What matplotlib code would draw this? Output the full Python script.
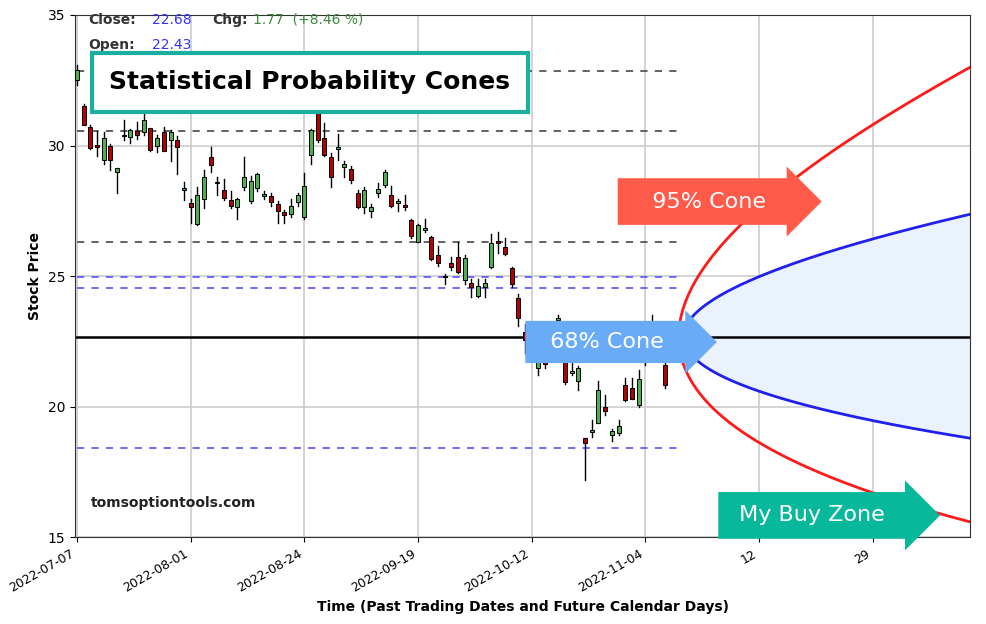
import matplotlib
matplotlib.use("Agg")
import matplotlib.pyplot as plt
from matplotlib.patches import Rectangle
import numpy as np

# daily candles: open, high, low, close (index = trading day)
opens = [32.5, 31.5, 30.72, 29.98, 29.45, 29.97, 28.98, 30.35, 30.34, 30.55, 30.53, 30.66, 30.0, 30.5, 30.2,
         30.2, 28.3, 27.8, 26.99, 27.96, 29.55, 28.55, 28.3, 27.92, 27.66, 28.42, 27.86, 28.36, 28.08, 28.05,
         27.78, 27.46, 27.37, 27.82, 27.28, 29.64, 31.23, 30.27, 29.58, 29.88, 29.19, 29.1, 28.17, 27.63, 27.5,
         28.2, 28.5, 28.1, 27.8, 27.68, 27.14, 26.3, 26.78, 26.5, 25.8, 24.97, 25.5, 25.74, 24.87, 24.75,
         24.23, 24.57, 25.35, 26.28, 26.12, 25.33, 24.18, 22.87, 22.5, 21.47, 21.92, 22.6, 23.33, 21.79, 21.3,
         21.0, 18.8, 19.03, 19.38, 19.98, 18.9, 18.98, 20.83, 20.7, 20.06, 22.1, 22.43, 22.9, 21.6]
highs = [33.1, 31.6, 30.8, 30.55, 30.5, 30.05, 29.15, 30.98, 30.65, 30.9, 31.23, 30.66, 30.4, 30.7, 30.6,
         30.35, 28.6, 27.95, 28.4, 29.05, 29.95, 28.8, 28.7, 28.25, 27.98, 29.55, 28.85, 28.95, 28.25, 28.18,
         27.88, 27.55, 27.95, 28.2, 28.95, 30.65, 31.5, 30.85, 29.7, 30.45, 29.42, 29.2, 28.3, 28.42, 27.75,
         28.55, 29.06, 28.45, 27.95, 28.1, 27.2, 27.0, 27.2, 26.55, 26.15, 25.1, 25.75, 26.3, 25.8, 24.9,
         24.9, 24.9, 26.6, 26.7, 26.45, 25.35, 24.3, 23.15, 22.8, 22.3, 22.1, 22.8, 23.5, 21.85, 21.85,
         21.55, 18.8, 19.5, 21.0, 20.45, 19.15, 19.5, 21.08, 21.08, 21.4, 22.3, 23.5, 23.2, 21.7]
lows = [32.3, 30.8, 29.85, 29.6, 29.3, 29.06, 28.17, 30.2, 30.1, 30.25, 30.4, 29.8, 29.75, 29.8, 29.4,
        28.92, 27.9, 27.02, 26.95, 27.6, 28.98, 28.1, 27.9, 27.6, 27.2, 28.3, 27.8, 28.25, 27.95, 27.7,
        27.05, 27.04, 27.28, 27.7, 27.2, 29.3, 30.15, 29.6, 28.42, 29.43, 28.78, 28.55, 27.6, 27.4, 27.25,
        28.02, 28.4, 27.66, 27.5, 27.53, 26.45, 26.3, 26.68, 25.62, 25.4, 24.7, 25.25, 25.12, 24.7, 24.2,
        24.2, 24.2, 25.32, 25.9, 25.8, 24.6, 23.1, 22.07, 22.2, 21.2, 21.5, 22.3, 23.0, 20.86, 21.2,
        20.64, 17.19, 18.85, 19.36, 19.7, 18.7, 18.9, 20.23, 20.28, 20.0, 21.6, 22.3, 21.79, 20.7]
closes = [32.9, 30.8, 29.89, 29.95, 30.27, 29.45, 29.15, 30.37, 30.6, 30.4, 30.98, 29.83, 30.27, 29.8, 30.5,
          29.94, 28.32, 27.66, 28.1, 28.8, 29.26, 28.55, 27.98, 27.7, 27.94, 28.8, 28.63, 28.9, 28.1, 27.82,
          27.5, 27.34, 27.7, 28.12, 28.46, 30.6, 30.2, 29.64, 28.8, 29.92, 29.3, 28.67, 27.66, 28.3, 27.66,
          28.35, 29.0, 27.68, 27.83, 27.66, 26.53, 26.97, 26.8, 25.64, 25.5, 24.95, 25.35, 25.15, 25.7, 24.57,
          24.62, 24.72, 26.27, 26.27, 25.84, 24.7, 23.41, 22.55, 22.3, 21.92, 21.63, 22.5, 23.35, 20.95, 21.3,
          21.47, 18.6, 19.06, 20.64, 19.83, 19.07, 19.27, 20.25, 20.3, 21.05, 22.0, 22.68, 22.7, 20.83]

date_ticks = [0, 17, 34, 51, 68, 85]
date_labels = ["2022-07-07", "2022-08-01", "2022-08-24", "2022-09-19", "2022-10-12", "2022-11-04"]
future_ticks = [102, 119]
future_labels = ["12", "29"]

last_price = 22.68
black_levels = [32.85, 30.55, 26.3]
blue_levels = [24.95, 24.55, 18.4]
sigma_1 = 0.0287   # log move per sqrt(day), 68% cone
sigma_2 = 0.0568   # 95% cone
apex_68 = 90.7
apex_95 = 90.0
x_end = 133.6

fig = plt.figure(figsize=(9.86, 6.24), dpi=100)
ax = fig.add_axes([0.076, 0.139, 0.908, 0.837])

for i in range(len(opens)):
    o, h, l, c = opens[i], highs[i], lows[i], closes[i]
    col = "#4caf50" if c >= o else "#b30000"
    ax.plot([i, i], [l, h], color="black", lw=1, zorder=3)
    bh = max(abs(c - o), 0.06)
    ax.add_patch(Rectangle((i - 0.3, min(o, c)), 0.6, bh, facecolor=col,
                           edgecolor="black", lw=0.7, zorder=4))

for lv in black_levels:
    ax.plot([0, 90], [lv, lv], color="#555555", ls=(0, (4, 4)), lw=1.3, zorder=2)
for lv in blue_levels:
    ax.plot([0, 90], [lv, lv], color="#6060ff", ls=(0, (4, 4)), lw=1.3, zorder=2)
ax.axhline(last_price, color="black", lw=1.8, zorder=2)

t1 = np.linspace(0, x_end - apex_68, 300)
up1 = last_price * np.exp(sigma_1 * np.sqrt(t1))
dn1 = last_price * np.exp(-sigma_1 * np.sqrt(t1))
ax.fill_between(apex_68 + t1, dn1, up1, color="#eaf3fd", zorder=1)
ax.plot(apex_68 + t1, up1, color="#2020ee", lw=2, zorder=5)
ax.plot(apex_68 + t1, dn1, color="#2020ee", lw=2, zorder=5)
s = np.linspace(-np.sqrt(x_end - apex_95), np.sqrt(x_end - apex_95), 400)
ax.plot(apex_95 + s ** 2, last_price * np.exp(sigma_2 * s), color="#ff1a1a", lw=2, zorder=5)

ax.set_xlim(-0.3, x_end)
ax.set_ylim(15, 35)
ax.set_yticks([15, 20, 25, 30, 35])
ax.set_xticks(date_ticks + future_ticks)
ax.set_xticklabels(date_labels + future_labels, rotation=30, ha="right", fontsize=9)
ax.tick_params(axis="y", labelsize=10)
ax.grid(color="#cccccc", lw=1.2)
ax.set_axisbelow(True)
for sp in ax.spines.values():
    sp.set_color("#333333")
ax.set_ylabel("Stock Price", fontweight="bold", fontsize=10)
ax.set_xlabel("Time (Past Trading Dates and Future Calendar Days)", fontweight="bold", fontsize=10)

# header readout
fig.text(0.089, 0.962, "Close:", fontsize=10, fontweight="bold", color="#333333")
fig.text(0.154, 0.962, "22.68", fontsize=10, color="#3333ff")
fig.text(0.215, 0.962, "Chg:", fontsize=10, fontweight="bold", color="#333333")
fig.text(0.257, 0.962, "1.77  (+8.46 %)", fontsize=10, color="#3a8a3a")
fig.text(0.089, 0.922, "Open:", fontsize=10, fontweight="bold", color="#333333")
fig.text(0.154, 0.922, "22.43", fontsize=10, color="#3333ff")

fig.text(0.314, 0.868, "Statistical Probability Cones", fontsize=18, fontweight="bold",
         ha="center", va="center", zorder=10,
         bbox=dict(boxstyle="square,pad=0.7", facecolor="white", edgecolor="#1aae9f", lw=3))

fig.text(0.092, 0.188, "tomsoptiontools.com", fontsize=10, fontweight="bold", color="#222222")

fig.text(0.64, 0.677, "   95% Cone    ", fontsize=16, color="white", va="center",
         bbox=dict(boxstyle="rarrow,pad=0.6", facecolor="#ff5a4a", edgecolor="none"))
fig.text(0.544, 0.452, "  68% Cone    ", fontsize=16, color="white", va="center",
         bbox=dict(boxstyle="rarrow,pad=0.5", facecolor="#6aabf7", edgecolor="none"))
fig.text(0.742, 0.174, " My Buy Zone    ", fontsize=16, color="white", va="center",
         bbox=dict(boxstyle="rarrow,pad=0.6", facecolor="#08b89a", edgecolor="none"))

fig.savefig("out.png", dpi=100)
